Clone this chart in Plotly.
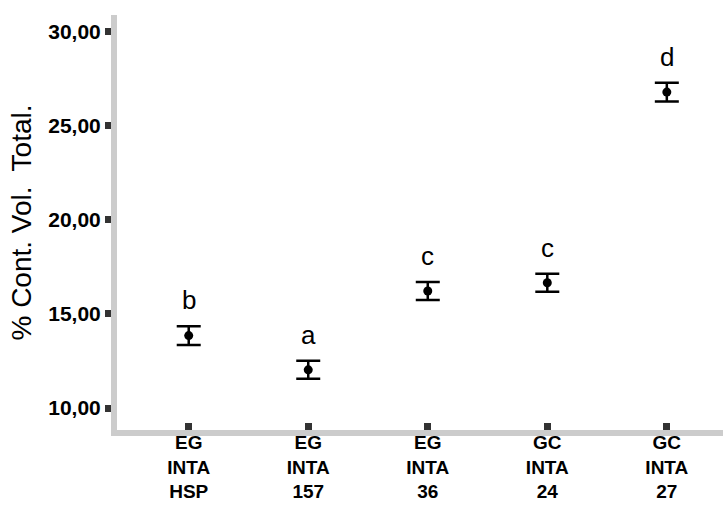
import plotly.graph_objects as go

categories = ["EG<br>INTA<br>HSP", "EG<br>INTA<br>157", "EG<br>INTA<br>36", "GC<br>INTA<br>24", "GC<br>INTA<br>27"]
means = [13.85, 12.03, 16.22, 16.66, 26.80]
errors = [0.50, 0.48, 0.48, 0.48, 0.50]
letters = ["b", "a", "c", "c", "d"]
ytick_vals = [10, 15, 20, 25, 30]
ytick_text = ["10,00", "15,00", "20,00", "25,00", "30,00"]

x_idx = list(range(len(categories)))

fig = go.Figure()
fig.add_trace(go.Scatter(
    x=x_idx, y=means, mode="markers",
    marker=dict(color="black", size=9, symbol="circle"),
    error_y=dict(type="data", array=errors, visible=True, color="black",
                 thickness=2.5, width=12),
    showlegend=False,
))

for xi, m, e, lab in zip(x_idx, means, errors, letters):
    fig.add_annotation(x=xi, y=m + e, text=lab, showarrow=False,
                       yanchor="bottom", yshift=9,
                       font=dict(family="Liberation Sans, Arial", size=26, color="black"))

fig.update_layout(
    width=723, height=514,
    margin=dict(l=117, r=0, t=15, b=84),
    plot_bgcolor="white", paper_bgcolor="white",
    font=dict(family="Liberation Sans, Arial", color="black"),
)
fig.update_xaxes(
    range=[-0.6, 4.47], tickmode="array", tickvals=x_idx,
    ticktext=["<b>" + c + "</b>" for c in categories],
    tickfont=dict(size=19, family="Liberation Sans, Arial"),
    showgrid=False, zeroline=False,
    showline=True, linecolor="#cccccc", linewidth=6,
    ticks="inside", ticklen=7, tickwidth=7, tickcolor="#333333",
    ticklabelstandoff=-10,
)
fig.update_yaxes(
    range=[8.83, 30.9], tickmode="array", tickvals=ytick_vals, ticktext=["<b>" + t + "</b>" for t in ytick_text],
    tickfont=dict(size=21, family="Liberation Sans, Arial"),
    showgrid=False, zeroline=False,
    showline=True, linecolor="#cccccc", linewidth=6,
    ticks="outside", ticklen=6, tickwidth=7, tickcolor="#333333",
    title=dict(text="% Cont. Vol.  Total.", font=dict(size=28), standoff=10),
)

fig.write_html("out.html")
